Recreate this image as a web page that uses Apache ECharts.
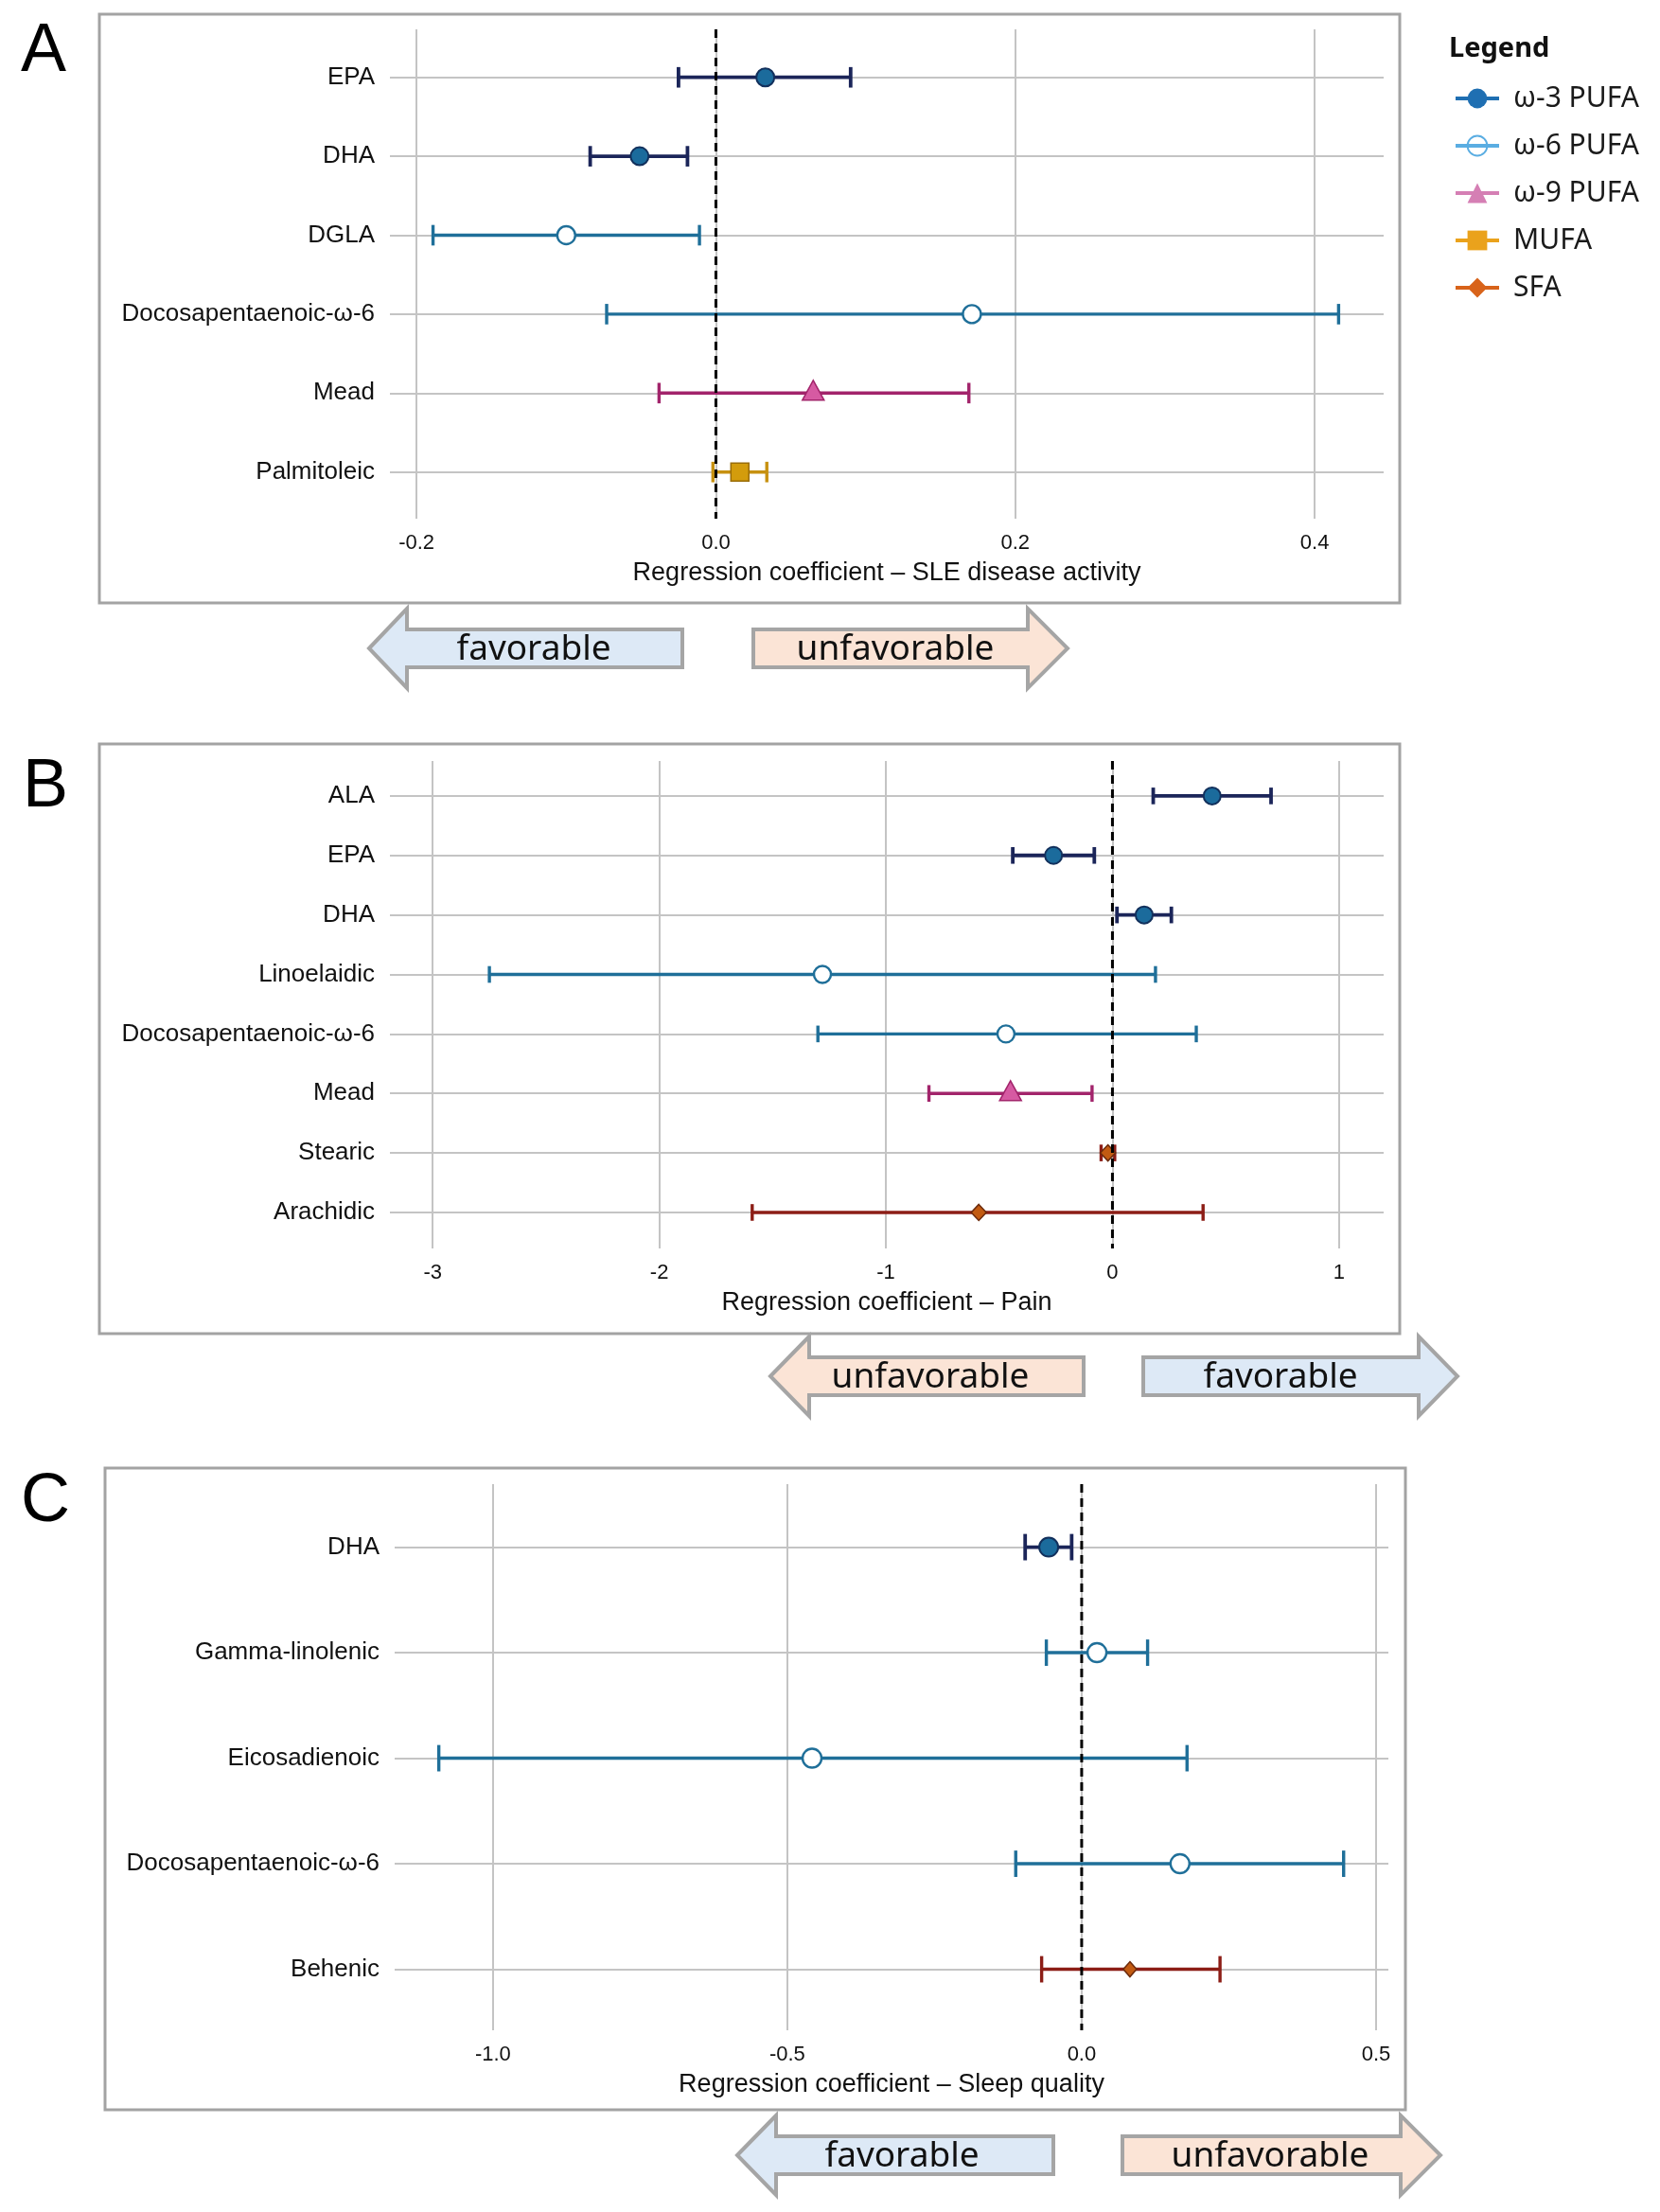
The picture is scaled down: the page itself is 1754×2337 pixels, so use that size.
<!DOCTYPE html>
<html><head><meta charset="utf-8">
<script src="https://cdn.jsdelivr.net/npm/echarts@6/dist/echarts.min.js"></script>
<style>html,body{margin:0;padding:0;background:#fff}#chart{width:1754px;height:2337px}</style>
</head><body><div id="chart"></div>
<script>
// ---------------- DATA ----------------
const groups = ['ω-3 PUFA', 'ω-6 PUFA', 'ω-9 PUFA', 'MUFA', 'SFA'];

// Panel A – SLE disease activity
const aLabels = ['EPA', 'DHA', 'DGLA', 'Docosapentaenoic-ω-6', 'Mead', 'Palmitoleic'];
const aGroups = ['ω-3 PUFA', 'ω-3 PUFA', 'ω-6 PUFA', 'ω-6 PUFA', 'ω-9 PUFA', 'MUFA'];
const aEst    = [0.033, -0.051, -0.100, 0.171, 0.065, 0.016];
const aLower  = [-0.025, -0.084, -0.189, -0.073, -0.038, -0.002];
const aUpper  = [0.090, -0.019, -0.011, 0.416, 0.169, 0.034];

// Panel B – Pain
const bLabels = ['ALA', 'EPA', 'DHA', 'Linoelaidic', 'Docosapentaenoic-ω-6', 'Mead', 'Stearic', 'Arachidic'];
const bGroups = ['ω-3 PUFA', 'ω-3 PUFA', 'ω-3 PUFA', 'ω-6 PUFA', 'ω-6 PUFA', 'ω-9 PUFA', 'SFA', 'SFA'];
const bEst    = [0.44, -0.26, 0.14, -1.28, -0.47, -0.45, -0.02, -0.59];
const bLower  = [0.18, -0.44, 0.02, -2.75, -1.30, -0.81, -0.05, -1.59];
const bUpper  = [0.70, -0.08, 0.26, 0.19, 0.37, -0.09, 0.01, 0.40];

// Panel C – Sleep quality
const cLabels = ['DHA', 'Gamma-linolenic', 'Eicosadienoic', 'Docosapentaenoic-ω-6', 'Behenic'];
const cGroups = ['ω-3 PUFA', 'ω-6 PUFA', 'ω-6 PUFA', 'ω-6 PUFA', 'SFA'];
const cEst    = [-0.056, 0.026, -0.458, 0.167, 0.082];
const cLower  = [-0.096, -0.060, -1.092, -0.112, -0.068];
const cUpper  = [-0.017, 0.112, 0.179, 0.445, 0.235];

const axisTitles = [
  'Regression coefficient \u2013 SLE disease activity',
  'Regression coefficient \u2013 Pain',
  'Regression coefficient \u2013 Sleep quality'
];
const panelLetters = ['A', 'B', 'C'];
const arrowWords = ['favorable', 'unfavorable'];

// ---------------- STYLE ----------------
const FONT = 'Liberation Sans';
const STY = {
  'ω-3 PUFA': { symbol: 'circle',      bar: '#1b2559', fill: '#1b6b9c', stroke: '#12305c', legend: '#1f6fb2', lw: 3.8 },
  'ω-6 PUFA': { symbol: 'emptyCircle', bar: '#1f6f99', fill: '#ffffff', stroke: '#1f6f99', legend: '#5aade2', lw: 3.4 },
  'ω-9 PUFA': { symbol: 'triangle',    bar: '#a2246b', fill: '#d65aa2', stroke: '#a2246b', legend: '#d57fb4', lw: 3.4 },
  'MUFA':     { symbol: 'rect',        bar: '#c79110', fill: '#d39c0c', stroke: '#9a6d08', legend: '#eaa21c', lw: 3.4 },
  'SFA':      { symbol: 'diamond',     bar: '#8c1d16', fill: '#c25b12', stroke: '#6b2a0c', legend: '#d8631a', lw: 3.4 }
};

function makeRender(capFrac, ms) {
  return function (params, api) {
    const row = api.value(3);
    const st = STY[groups[api.value(4)]];
    const pLo = api.coord([api.value(1), row]);
    const pHi = api.coord([api.value(2), row]);
    const pE = api.coord([api.value(0), row]);
    const rowH = Math.abs(api.size([0, 1])[1]);
    const cap = rowH * capFrac / 2;
    const ch = [
      { type: 'line', shape: { x1: pLo[0], y1: pLo[1], x2: pHi[0], y2: pHi[1] }, style: { stroke: st.bar, lineWidth: st.lw } },
      { type: 'line', shape: { x1: pLo[0], y1: pLo[1] - cap, x2: pLo[0], y2: pLo[1] + cap }, style: { stroke: st.bar, lineWidth: st.lw } },
      { type: 'line', shape: { x1: pHi[0], y1: pHi[1] - cap, x2: pHi[0], y2: pHi[1] + cap }, style: { stroke: st.bar, lineWidth: st.lw } }
    ];
    const cx = pE[0], cy = pE[1];
    if (st.symbol === 'circle') {
      ch.push({ type: 'circle', shape: { cx, cy, r: ms.r }, style: { fill: st.fill, stroke: st.stroke, lineWidth: 2 } });
    } else if (st.symbol === 'emptyCircle') {
      ch.push({ type: 'circle', shape: { cx, cy, r: ms.r }, style: { fill: '#fff', stroke: st.stroke, lineWidth: 2.4 } });
    } else if (st.symbol === 'triangle') {
      const w = ms.tw, h = ms.th;
      ch.push({ type: 'polygon', shape: { points: [[cx, cy - h * 0.64], [cx - w / 2, cy + h * 0.36], [cx + w / 2, cy + h * 0.36]] }, style: { fill: st.fill, stroke: st.stroke, lineWidth: 1.5 } });
    } else if (st.symbol === 'rect') {
      const s = ms.sq;
      ch.push({ type: 'rect', shape: { x: cx - s / 2, y: cy - s / 2, width: s, height: s }, style: { fill: st.fill, stroke: st.stroke, lineWidth: 1.5 } });
    } else {
      const w = ms.dw, h = ms.dh;
      ch.push({ type: 'polygon', shape: { points: [[cx, cy - h / 2], [cx + w / 2, cy], [cx, cy + h / 2], [cx - w / 2, cy]] }, style: { fill: st.fill, stroke: st.stroke, lineWidth: 1.5 } });
    }
    return { type: 'group', children: ch };
  };
}

function barsSeries(i, est, lo, hi, grp, capFrac, ms) {
  return {
    type: 'custom', xAxisIndex: i, yAxisIndex: i, z: 3, silent: true, clip: false,
    data: est.map((e, k) => [e, lo[k], hi[k], k, groups.indexOf(grp[k])]),
    encode: { x: [0, 1, 2], y: 3 },
    renderItem: makeRender(capFrac, ms)
  };
}

function zeroSeries(i) {
  return {
    type: 'custom', xAxisIndex: i, yAxisIndex: i, z: 6, silent: true,
    data: [[0, 0]],
    encode: { x: 0, y: 1 },
    renderItem: function (params, api) {
      const cs = params.coordSys;
      const x = api.coord([api.value(0), 0])[0];
      return { type: 'line', shape: { x1: x, y1: cs.y, x2: x, y2: cs.y + cs.height }, style: { stroke: '#000', lineWidth: 3, lineDash: [9, 6] } };
    }
  };
}

function xAx(i, min, max, split, dec, name) {
  return {
    type: 'value', gridIndex: i, min, max, splitNumber: split,
    name, nameLocation: 'middle', nameGap: 44,
    nameTextStyle: { fontFamily: FONT, fontSize: 27, color: '#111' },
    axisLine: { show: false }, axisTick: { show: false },
    axisLabel: { showMinLabel: false, showMaxLabel: false, fontFamily: FONT, fontSize: 22, color: '#111', margin: 15,
      formatter: v => (dec ? Number(v).toFixed(dec) : String(Math.round(v))) },
    splitLine: { show: true, showMinLine: false, showMaxLine: false, lineStyle: { color: '#c4c4c4', width: 2 } }
  };
}

function yAx(i, min, max, split, labels) {
  return {
    type: 'value', gridIndex: i, inverse: true, min, max, splitNumber: split,
    axisLine: { show: false }, axisTick: { show: false },
    axisLabel: { showMinLabel: false, showMaxLabel: false, fontFamily: FONT, fontSize: 26, color: '#111', margin: 16,
      formatter: v => (Number.isInteger(v) && labels[v] !== undefined ? labels[v] : '') },
    splitLine: { show: true, showMinLine: false, showMaxLine: false, lineStyle: { color: '#c4c4c4', width: 2 } }
  };
}

function arrow(dir, tx, hx, bx, cy, bh, hh, fill, label, textX) {
  let pts;
  if (dir === 'left') {
    pts = [[tx, cy], [hx, cy - hh], [hx, cy - bh], [bx, cy - bh], [bx, cy + bh], [hx, cy + bh], [hx, cy + hh]];
  } else {
    pts = [[bx, cy - bh], [hx, cy - bh], [hx, cy - hh], [tx, cy], [hx, cy + hh], [hx, cy + bh], [bx, cy + bh]];
  }
  return [
    { type: 'polygon', z: 1, shape: { points: pts }, style: { fill, stroke: '#a5a5a5', lineWidth: 4 } },
    { type: 'text', z: 2, x: textX, y: cy + 1, style: { text: label, fontSize: 37, fontFamily: 'Noto Sans', fill: '#111', align: 'center', verticalAlign: 'middle' } }
  ];
}

const BLUE = '#dde9f6', PEACH = '#fbe4d6';

const graphics = [
  { type: 'rect', z: 0, shape: { x: 105, y: 15, width: 1374, height: 622 }, style: { fill: 'none', stroke: '#a3a3a3', lineWidth: 3 } },
  { type: 'rect', z: 0, shape: { x: 105, y: 786, width: 1374, height: 623 }, style: { fill: 'none', stroke: '#a3a3a3', lineWidth: 3 } },
  { type: 'rect', z: 0, shape: { x: 111, y: 1551, width: 1374, height: 678 }, style: { fill: 'none', stroke: '#a3a3a3', lineWidth: 3 } },
  { type: 'text', x: 22, y: 55, style: { text: panelLetters[0], fontSize: 72, fontFamily: FONT, fill: '#000', verticalAlign: 'middle' } },
  { type: 'text', x: 24, y: 832, style: { text: panelLetters[1], fontSize: 72, fontFamily: FONT, fill: '#000', verticalAlign: 'middle' } },
  { type: 'text', x: 22, y: 1587, style: { text: panelLetters[2], fontSize: 72, fontFamily: FONT, fill: '#000', verticalAlign: 'middle' } },
  { type: 'text', x: 1531, y: 52, style: { text: 'Legend', fontSize: 29, fontWeight: 'bold', fontFamily: 'Noto Sans', fill: '#111', verticalAlign: 'middle' } },
  ...arrow('left', 390, 430, 721, 685, 20, 42, BLUE, arrowWords[0], 564),
  ...arrow('right', 1128, 1086, 796, 685, 20, 42, PEACH, arrowWords[1], 946),
  ...arrow('left', 814, 855, 1145, 1454, 20, 42, PEACH, arrowWords[1], 983),
  ...arrow('right', 1540, 1499, 1208, 1454, 20, 42, BLUE, arrowWords[0], 1353),
  ...arrow('left', 779, 820, 1113, 2277, 20, 42, BLUE, arrowWords[0], 953),
  ...arrow('right', 1522, 1480, 1186, 2277, 20, 42, PEACH, arrowWords[1], 1342)
];

const legendSeries = groups.map(g => {
  const open = STY[g].symbol === 'emptyCircle';
  return {
    type: 'line', name: g, xAxisIndex: 0, yAxisIndex: 0, data: [],
    symbol: open ? 'circle' : STY[g].symbol, symbolSize: 20,
    itemStyle: open ? { color: 'rgba(255,255,255,0)', borderColor: STY[g].legend, borderWidth: 2.5 } : { color: STY[g].legend },
    lineStyle: { color: STY[g].legend, width: 4 }
  };
});

const option = {
  backgroundColor: '#fff',
  animation: false,
  grid: [
    { left: 412, top: 31, width: 1050, height: 517 },
    { left: 412, top: 804, width: 1050, height: 515 },
    { left: 417, top: 1568, width: 1050, height: 577 }
  ],
  xAxis: [
    xAx(0, -0.2178, 0.4461, 3, 1, axisTitles[0]),
    xAx(1, -3.189, 1.197, 4, 0, axisTitles[1]),
    xAx(2, -1.167, 0.521, 3, 1, axisTitles[2])
  ],
  yAxis: [
    yAx(0, -0.608, 5.591, 6, aLabels),
    yAx(1, -0.587, 7.605, 8, bLabels),
    yAx(2, -0.597, 4.578, 5, cLabels)
  ],
  legend: {
    orient: 'vertical', left: 1531, top: 84, itemWidth: 46, itemHeight: 26, itemGap: 20,
    selectedMode: false, data: groups,
    lineStyle: { width: 4 },
    textStyle: { fontFamily: 'Noto Sans', fontSize: 30, color: '#1a1a1a', padding: [0, 0, 0, 10] }
  },
  graphic: graphics,
  series: [
    ...legendSeries,
    barsSeries(0, aEst, aLower, aUpper, aGroups, 0.26, { r: 9.5, tw: 23, th: 21, sq: 19, dw: 16, dh: 18 }),
    barsSeries(1, bEst, bLower, bUpper, bGroups, 0.28, { r: 9, tw: 23, th: 21, sq: 18, dw: 16, dh: 17 }),
    barsSeries(2, cEst, cLower, cUpper, cGroups, 0.25, { r: 10, tw: 22, th: 21, sq: 19, dw: 14, dh: 16 }),
    zeroSeries(0), zeroSeries(1), zeroSeries(2)
  ]
};

const chart = echarts.init(document.getElementById('chart'), null, { renderer: 'canvas' });
chart.setOption(option);
</script>
</body></html>
